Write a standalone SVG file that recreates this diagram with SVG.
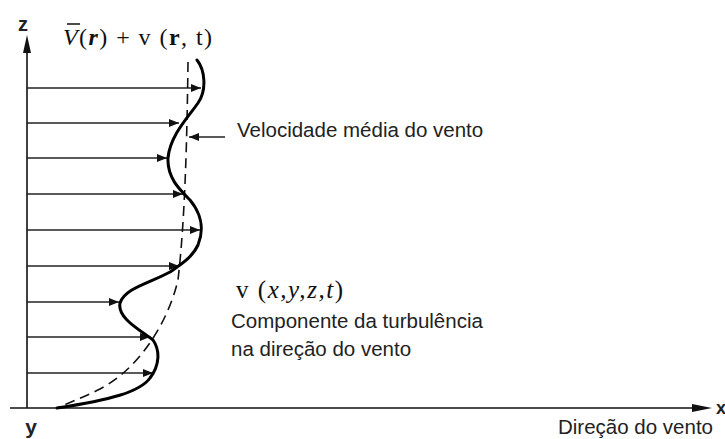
<svg xmlns="http://www.w3.org/2000/svg" width="725" height="439" viewBox="0 0 725 439">
<defs>
<style>
.ax{stroke:#111;stroke-width:1.6;fill:none}
.row{stroke:#222;stroke-width:1.4;fill:none}
.prof{stroke:#000;stroke-width:3;fill:none;stroke-linecap:round}
.mean{stroke:#111;stroke-width:1.6;fill:none;stroke-dasharray:10 6}
.sans{font-family:"Liberation Sans",Arial,sans-serif;fill:#222}
.ser{font-family:"Liberation Serif","Times New Roman",serif;fill:#111}
</style>
<marker id="ah" viewBox="0 0 10 8" refX="10" refY="4" markerWidth="10" markerHeight="8" markerUnits="userSpaceOnUse" orient="auto">
<path d="M0,0 L10,4 L0,8 Z" fill="#111"/>
</marker>
</defs>
<rect width="725" height="439" fill="#fff"/>

<g id="axes">
<line class="ax" x1="27" y1="408" x2="27" y2="52"/>
<path d="M27,35 L31,53 L23,53 Z" fill="#111"/>
<line class="ax" x1="10" y1="408" x2="696" y2="408"/>
<path d="M712,408 L692,404 L692,412 Z" fill="#111"/>
<text class="sans" x="23" y="31" font-size="20" font-weight="bold" text-anchor="middle">z</text>
<text class="sans" x="716" y="414" font-size="18" font-weight="bold">x</text>
<text class="sans" x="31" y="434" font-size="21" font-weight="bold" text-anchor="middle">y</text>
</g>

<g id="connectors">
<line class="row" x1="27" y1="88" x2="201" y2="88" marker-end="url(#ah)"/>
<line class="row" x1="27" y1="123" x2="179" y2="123" marker-end="url(#ah)"/>
<line class="row" x1="27" y1="158" x2="167" y2="158" marker-end="url(#ah)"/>
<line class="row" x1="27" y1="194" x2="183" y2="194" marker-end="url(#ah)"/>
<line class="row" x1="27" y1="230" x2="200" y2="230" marker-end="url(#ah)"/>
<line class="row" x1="27" y1="266" x2="179" y2="266" marker-end="url(#ah)"/>
<line class="row" x1="27" y1="302" x2="119" y2="302" marker-end="url(#ah)"/>
<line class="row" x1="27" y1="337" x2="150" y2="337" marker-end="url(#ah)"/>
<line class="row" x1="27" y1="373" x2="153" y2="373" marker-end="url(#ah)"/>
<line class="row" x1="225" y1="137" x2="189" y2="137" marker-end="url(#ah)"/>
</g>

<g id="mean-profile">
<path class="mean" d="M188,62 C187,140 185,220 178,280 C168,322 140,368 100,389 C82,398 66,404 57,408"/>
</g>

<g id="turbulent-profile">
<path class="prof" d="M197,60 C205,70 207,90 198,103 C190,115 170,135 168,158 C167,178 180,190 190,200 C200,212 205,228 198,245 C192,258 180,265 170,272 C150,283 125,288 120,303 C117,318 140,330 153,340 C160,350 160,365 150,378 C140,392 110,400 57,408"/>
</g>

<g id="title">
<text class="ser" x="63" y="45" font-size="24" textLength="149" lengthAdjust="spacing"><tspan font-style="italic">V</tspan>(<tspan font-style="italic" font-weight="bold">r</tspan>) + v (<tspan font-weight="bold">r</tspan>, t)</text>
<line x1="67" y1="24" x2="80" y2="24" stroke="#111" stroke-width="1.5"/>
</g>

<g id="label-mean">
<text class="sans" x="237" y="137" font-size="20.5">Velocidade média do vento</text>
</g>

<g id="label-turb">
<text class="ser" x="236" y="298" font-size="25" textLength="107" lengthAdjust="spacing">v (<tspan font-style="italic">x,y,z,t</tspan>)</text>
<text class="sans" x="231" y="328" font-size="20.5">Componente da turbulência</text>
<text class="sans" x="231" y="356" font-size="20.5">na direção do vento</text>
</g>

<g id="label-dir">
<text class="sans" x="558" y="434" font-size="20.5">Direção do vento</text>
</g>
</svg>
